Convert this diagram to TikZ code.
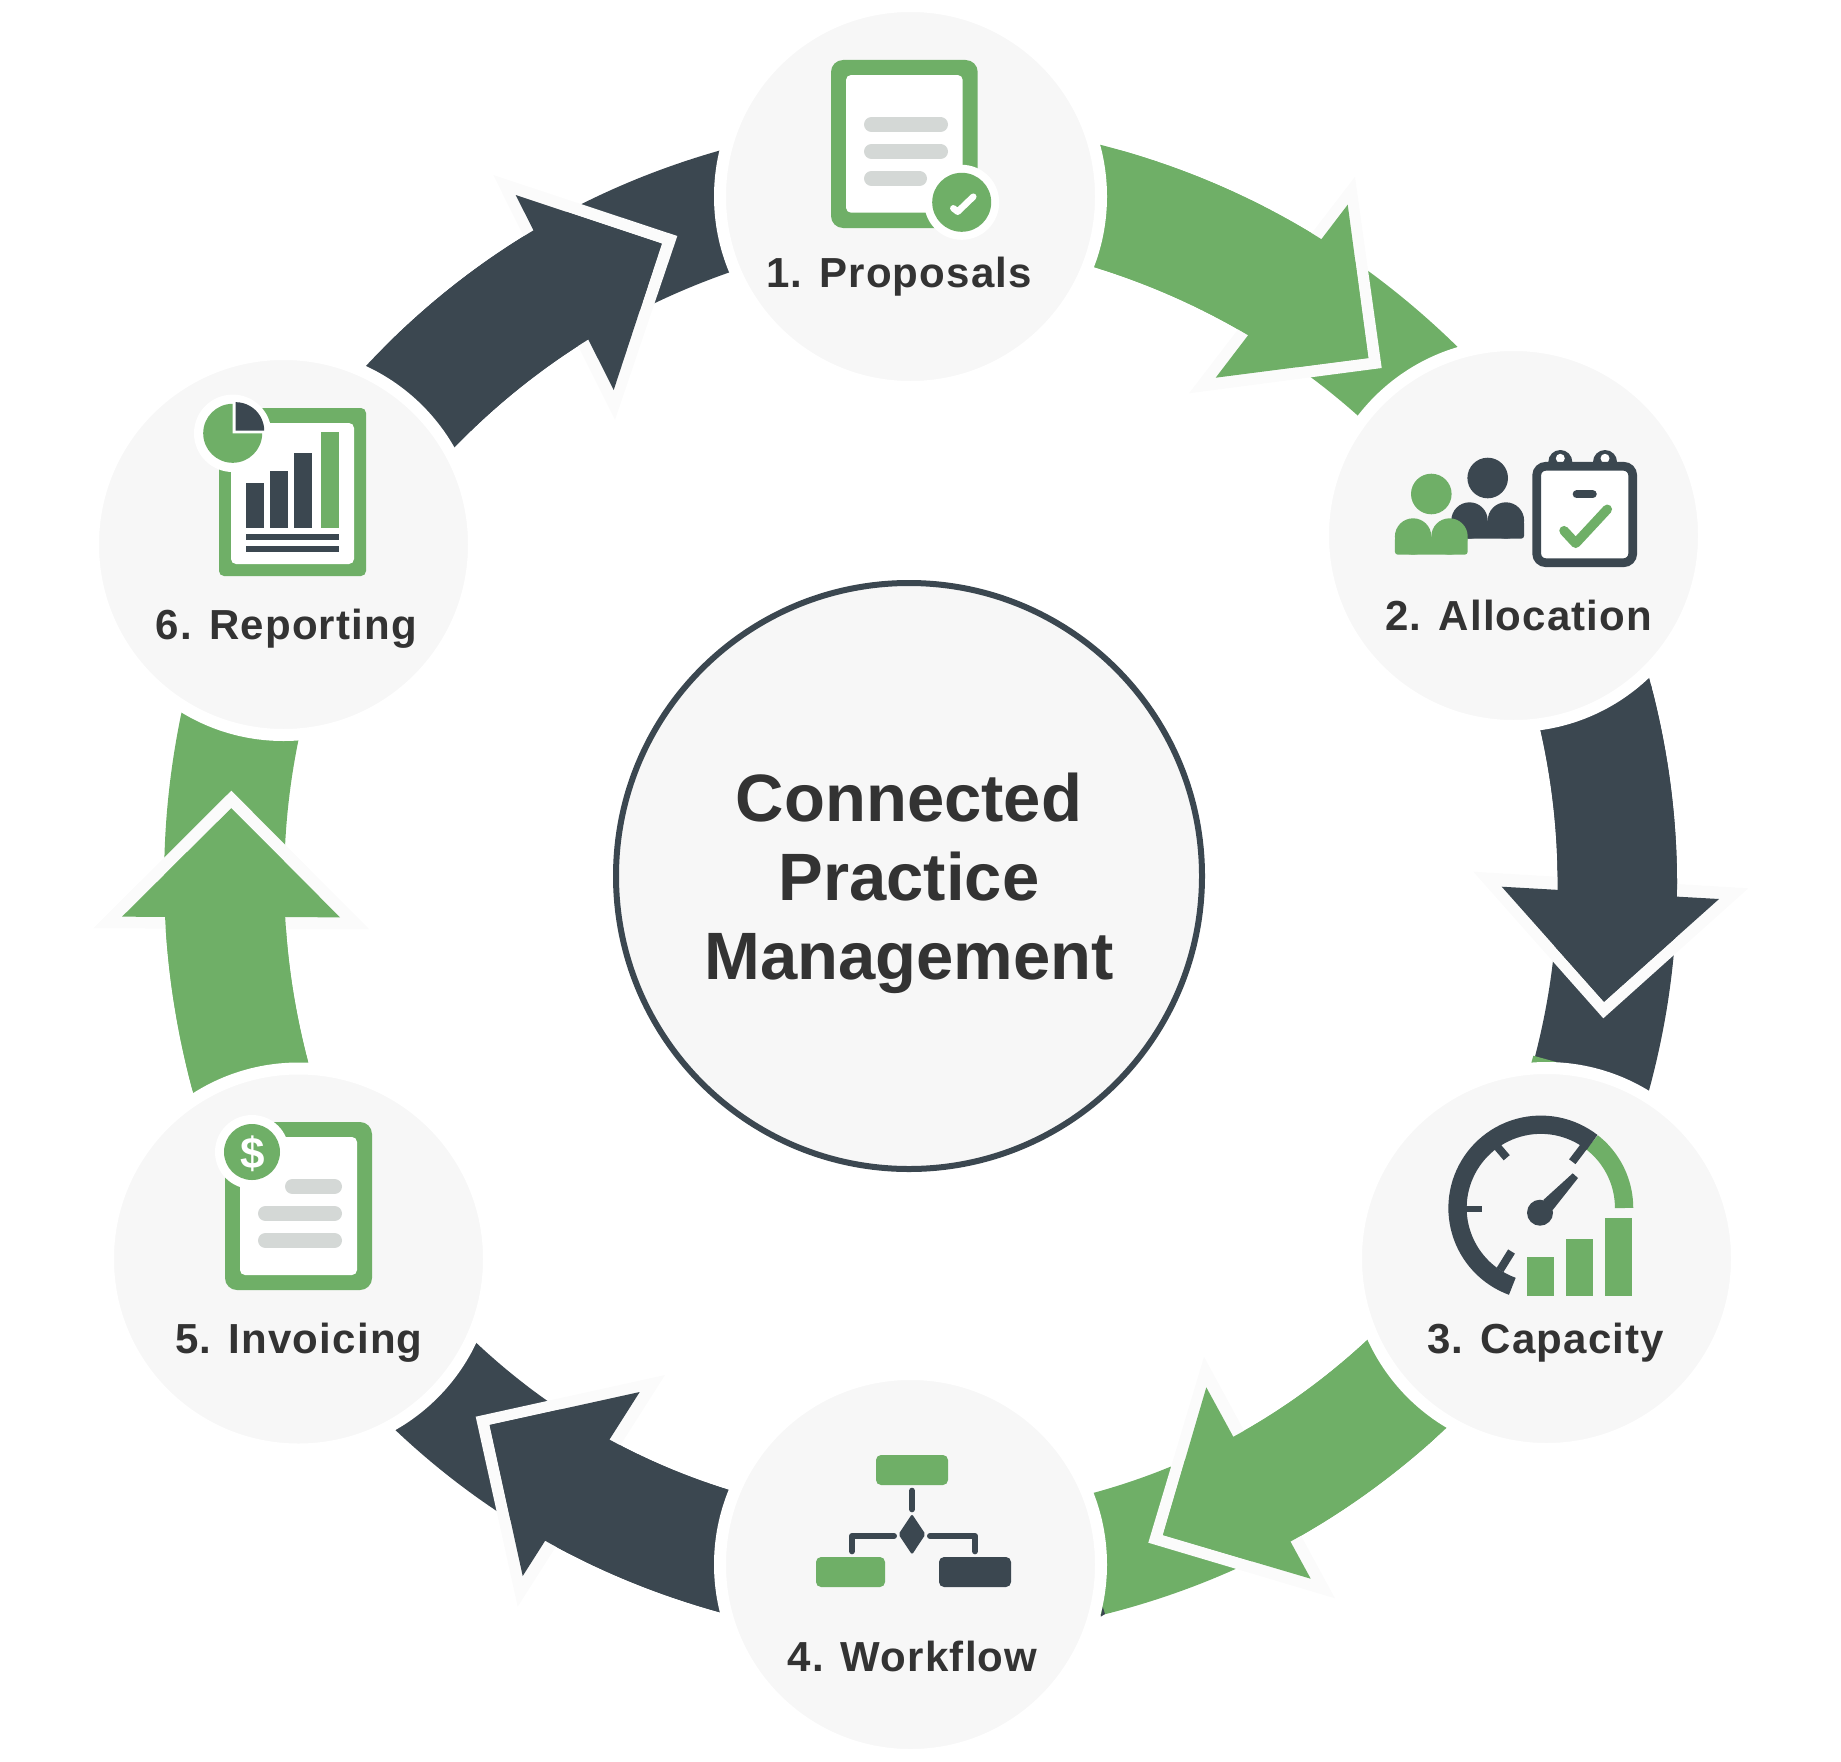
\documentclass[tikz,border=0pt]{standalone}
\usepackage{fontspec}
\setmainfont{Liberation Sans}
\newfontfamily\steptype[LetterSpace=2.8]{Liberation Sans}
\usetikzlibrary{calc}
\usepackage{xcolor}
\definecolor{Leaf}{HTML}{6FAF67}
\definecolor{Slate}{HTML}{3B4750}
\definecolor{Mist}{HTML}{F7F7F7}
\definecolor{Haze}{HTML}{FBFBFB}
\definecolor{Fog}{HTML}{D4D8D6}
\definecolor{Type}{HTML}{333333}
\newcommand{\Sweep}[3]{#1 .. controls ($4/3*#2-1/3*#3$) and ($4/3*#2-1/3*#1$) .. #3}
\newcommand{\FlowArrow}[5]{%
  \fill[#1] #2 -- cycle;%
  \fill[Haze] #3 -- cycle;%
  \begin{scope}
    \clip #4 -- #5 -- cycle;%
    \fill[#1] #2 -- cycle;%
  \end{scope}
  \fill[#1] #4 -- cycle;%
}
\newcommand{\Person}[3]{%
  \fill[#1] (#2,#3) circle[radius=20.3];%
  \fill[#1] (#2-18.2,#3+42.5) circle[radius=18.2];%
  \fill[#1] (#2+18.2,#3+42.5) circle[radius=18.2];%
  \fill[#1,rounded corners=3pt] (#2-36.4,#3+42.5) rectangle (#2+36.4,#3+60.7);%
}
\newcommand{\PieSlice}[4]{%
  \fill[#1] (#2,#3) -- plot[domain=0:90,samples=24] ({#2+#4*cos(\x)},{#3-#4*sin(\x)}) -- cycle;%
}
\tikzset{
  stepdisc/.style={circle,fill=Mist,draw=white,line width=12pt,minimum size=381pt,inner sep=0pt},
  coredisc/.style={circle,fill=Mist,draw=Slate,line width=6pt,minimum size=586pt,inner sep=0pt},
  coretitle/.style={align=center,inner sep=0pt,text=Type,font=\bfseries\fontsize{67}{79}\selectfont},
  steplabel/.style={anchor=base,inner sep=0pt,text=Type,font=\steptype\bfseries\fontsize{42}{48}\selectfont},
  pageframe/.style={fill=Leaf,rounded corners=12pt},
  pagesheet/.style={fill=white,rounded corners=5pt},
  pagebar/.style={draw=Fog,line width=15pt,line cap=round},
  thinlink/.style={draw=Slate,line width=6pt,line cap=round,line join=round},
  gaugeband/.style={line width=18.3pt}
}

\begin{document}
\begin{tikzpicture}[x=1pt,y=-1pt]
\useasboundingbox (0,0) rectangle (1841,1761);
\FlowArrow{Leaf}
  {\Sweep{(1072,138)}{(1296,224)}{(1485,375)} -- \Sweep{(1385,441)}{(1237.6,329.1)}{(1066,259)}}
  {(1355,176.7) -- (1381.7,368) -- (1189,393.3)}
  {(1347.7,204.7) -- (1368.3,358) -- (1215.7,377.7)}
  {(1094,268) -- (1100.7,145.7)}
\FlowArrow{Slate}
  {\Sweep{(1641,650)}{(1677,884)}{(1641,1118)} -- \Sweep{(1527,1085)}{(1557.5,892.5)}{(1533,700)}}
  {(1473.3,871.7) -- (1603.3,1018.3) -- (1748.3,888.3)}
  {(1501.7,886.7) -- (1604,1001.7) -- (1719,899)}
  {(1648.7,678) -- (1539,730)}
\fill[Leaf] (1531,1064) -- (1533.3,1055.7) -- (1558,1062.5) -- cycle;
\FlowArrow{Leaf}
  {\Sweep{(1468,1407)}{(1287.8,1543)}{(1076,1621)} -- \Sweep{(1065,1500)}{(1239.8,1433.2)}{(1390,1318)}}
  {(1204,1356.7) -- (1148.3,1542.7) -- (1335,1598.3)}
  {(1206.3,1387.3) -- (1163,1535) -- (1310.7,1578.7)}
  {(1445,1426.7) -- (1365.7,1336)}
\fill[Slate] (1100.7,1616.7) -- (1102.7,1606.7) -- (1105,1614) -- cycle;
\FlowArrow{Slate}
  {\Sweep{(750,1620)}{(545.7,1541)}{(374,1409)} -- \Sweep{(454,1321)}{(593.4,1430.5)}{(757,1498)}}
  {(665,1375) -- (475.7,1416.7) -- (517.7,1606.7)}
  {(639.7,1392) -- (489.7,1425) -- (522.7,1576)}
  {(720,1612.3) -- (728.3,1490)}
\FlowArrow{Leaf}
  {\Sweep{(201,1120)}{(164.5,902)}{(188,684)} -- \Sweep{(305,711)}{(284.5,900)}{(316,1090)}}
  {(93.3,928.3) -- (231.3,790.7) -- (369.3,929.3)}
  {(122,916.7) -- (231.3,808.3) -- (340,917.3)}
  {(309.3,1061.7) -- (193.3,1091.7)}
\FlowArrow{Slate}
  {\Sweep{(346,388)}{(527.5,234)}{(748,143)} -- \Sweep{(758,263)}{(581.5,343.7)}{(434,469)}}
  {(493.3,175) -- (677.3,236) -- (615,420)}
  {(515.7,195) -- (661.7,243.7) -- (613.7,390)}
  {(455.3,448.3) -- (367.3,366.7)}
\foreach \n/\x/\y in {1/910.5/196.5,2/1513.5/535.5,3/1546.5/1258.5,4/910.5/1564.5,5/298.5/1259,6/283.5/544.5} {
  \node[stepdisc] (disc\n) at (\x,\y) {};
}
\node[coredisc] (core) at (909,876) {};
\node[coretitle,yshift=-7pt] (title) at (core) {Connected\\Practice\\Management};
\node[steplabel] (lab1) at (899,287.3) {1. Proposals};
\node[steplabel] (lab2) at (1518.8,630) {2. Allocation};
\node[steplabel] (lab3) at (1545.7,1353.3) {3. Capacity};
\node[steplabel] (lab4) at (912.5,1671) {4. Workflow};
\node[steplabel] (lab5) at (299,1353.3) {5. Invoicing};
\node[steplabel] (lab6) at (286.5,639.3) {6. Reporting};
\fill[pageframe] (831,60) rectangle (977.7,228);
\fill[pagesheet] (846,75) rectangle (962.7,212.7);
\draw[pagebar] (871.5,124.5) -- (940.5,124.5);
\draw[pagebar] (871.5,151.5) -- (940.5,151.5);
\draw[pagebar] (871.5,178.5) -- (919.5,178.5);
\fill[white] (961.7,202.3) circle[radius=37.5];
\fill[Leaf] (961.7,202.3) circle[radius=29.5];
\draw[white,line width=6.5pt,line cap=round,line join=round] (953.3,208.3) -- (957.7,211.7) -- (973.3,196.7);
\Person{Slate}{1487.7}{478}
\Person{Leaf}{1431.3}{494}
\foreach \x in {1560.3,1605} {
  \fill[Slate] (\x,462) circle[radius=12];
  \fill[white] (\x,458.3) circle[radius=4.5];
}
\draw[Slate,fill=white,line width=8.7pt,rounded corners=9pt] (1536.7,466.3) rectangle (1632.7,562.7);
\draw[Slate,line width=8.3pt,line cap=round] (1576.8,494.3) -- (1592.6,494.3);
\draw[Leaf,line width=9.5pt,line cap=round,line join=round] (1564,530.7) -- (1575.7,543.3) -- (1607.3,509.3);
\draw[Leaf,gaugeband] plot[domain=0:52,samples=20] ({1540.8+83.3*cos(\x)},{1208-83.3*sin(\x)});
\draw[Slate,gaugeband] plot[domain=52:250,samples=60] ({1540.8+83.3*cos(\x)},{1208-83.3*sin(\x)});
\draw[Slate,line width=5.7pt] (1464,1208.7) -- (1482,1208.7);
\draw[Slate,line width=8pt] (1495,1144) -- (1506.7,1157.7);
\draw[Slate,line width=8pt] (1585,1145) -- (1572.3,1161.7);
\draw[Slate,line width=8pt] (1511.5,1251.5) -- (1500,1270);
\fill[Slate] (1540,1212.7) circle[radius=13];
\fill[Slate] (1572.7,1173.3) -- (1578,1178) -- (1552.7,1210) -- (1543.3,1200) -- cycle;
\fill[Leaf] (1527,1257) rectangle (1554,1296);
\fill[Leaf] (1566,1239) rectangle (1593,1296);
\fill[Leaf] (1605,1218) rectangle (1632,1296);
\fill[Leaf,rounded corners=5pt] (876,1455) rectangle (948,1485);
\fill[Leaf,rounded corners=5pt] (816,1557) rectangle (885,1587);
\fill[Slate,rounded corners=5pt] (939,1557) rectangle (1011,1587);
\draw[thinlink] (912,1490.7) -- (912,1509.3);
\draw[thinlink] (894,1536) -- (852,1536) -- (852,1551.3);
\draw[thinlink] (930,1536) -- (975,1536) -- (975,1551.3);
\fill[Slate,rounded corners=2pt] (912,1514) -- (925.5,1534.3) -- (912,1554.6) -- (898.5,1534.3) -- cycle;
\fill[pageframe] (225,1122) rectangle (372,1290);
\fill[pagesheet] (240,1137) rectangle (357,1275);
\draw[pagebar] (292.5,1186.5) -- (334.5,1186.5);
\draw[pagebar] (265.5,1213.5) -- (334.5,1213.5);
\draw[pagebar] (265.5,1240.5) -- (334.5,1240.5);
\fill[white] (252,1152) circle[radius=37];
\fill[Leaf] (252,1152) circle[radius=28];
\node[inner sep=0pt,text=white,font=\bfseries\fontsize{44}{44}\selectfont] (dollar) at (252.5,1154) {\$};
\fill[pageframe,rounded corners=5pt] (219,408) rectangle (366,576);
\fill[pagesheet] (231,423) rectangle (354,564);
\fill[Slate] (246,483) rectangle (264,528);
\fill[Slate] (270,471) rectangle (288,528);
\fill[Slate] (294,453) rectangle (312,528);
\fill[Leaf] (321,432) rectangle (339,528);
\fill[Slate] (246,534) rectangle (339,540);
\fill[Slate] (246,546) rectangle (339,552);
\fill[white] (232.7,433.3) circle[radius=38.7];
\fill[Leaf] (232.7,433.3) circle[radius=29.5];
\PieSlice{white}{232.7}{433.3}{30.5}
\PieSlice{Slate}{235.7}{430.7}{28.5}
\end{tikzpicture}
\end{document}
